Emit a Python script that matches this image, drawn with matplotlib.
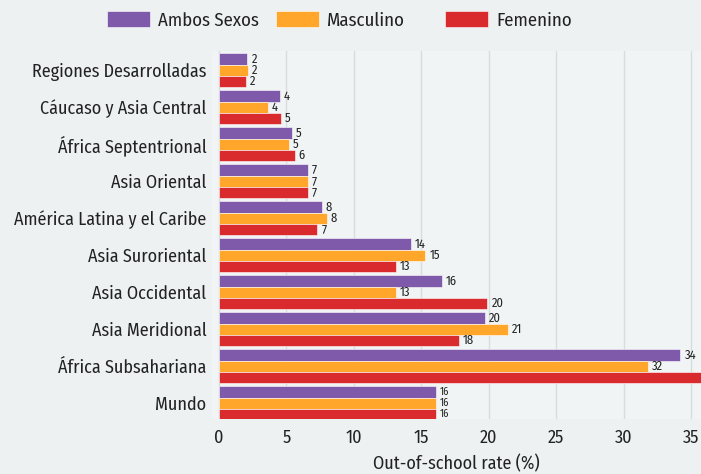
import matplotlib.pyplot as plt
from matplotlib.patches import Patch
import numpy as np

regions = [
    "Regiones Desarrolladas",
    "Cáucaso y Asia Central",
    "África Septentrional",
    "Asia Oriental",
    "América Latina y el Caribe",
    "Asia Suroriental",
    "Asia Occidental",
    "Asia Meridional",
    "África Subsahariana",
    "Mundo",
]
ambos = [2.1, 4.5, 5.4, 6.6, 7.6, 14.2, 16.5, 19.7, 34.2, 16.1]
masculino = [2.15, 3.6, 5.2, 6.6, 8.0, 15.3, 13.1, 21.4, 31.8, 16.1]
femenino = [2.0, 4.6, 5.6, 6.6, 7.3, 13.1, 19.9, 17.8, 36.5, 16.1]
ambos_lbl = [2, 4, 5, 7, 8, 14, 16, 20, 34, 16]
masc_lbl = [2, 4, 5, 7, 8, 15, 13, 21, 32, 16]
fem_lbl = [2, 5, 6, 7, 7, 13, 20, 18, None, 16]

series_names = ["Ambos Sexos", "Masculino", "Femenino"]
colors = ["#7f5aab", "#ffa62b", "#d92b2e"]

plt.rcParams["font.family"] = ["Fira Sans Condensed", "DejaVu Sans"]
text_color = "#222222"

fig = plt.figure(figsize=(7.01, 4.74), dpi=100, facecolor="#edf1f2")
ax = fig.add_axes([0.3024, 0.116, 0.6976, 0.776])
ax.set_facecolor("#f1f4f5")

n = len(regions)
y = np.arange(n)[::-1]
h = 0.3
data = [ambos, masculino, femenino]
labels = [ambos_lbl, masc_lbl, fem_lbl]
offsets = [h, 0, -h]

for vals, lbls, col, off in zip(data, labels, colors, offsets):
    ax.barh(y + off, vals, height=h, color=col, edgecolor="white",
            linewidth=0.4, zorder=3)
    for yi, v, lab in zip(y, vals, lbls):
        if lab is None:
            continue
        fs = 7.5 if yi == 0 else 9
        ax.text(v + 0.3, yi + off, str(lab), fontsize=fs, va="center",
                ha="left", color=text_color, zorder=4)

ax.set_xlim(-0.52, 35.73)
ax.set_ylim(-0.43, 9.51)
ax.set_xticks(range(0, 40, 5))
ax.set_yticks(y)
ax.set_yticklabels(regions)
ax.tick_params(axis="both", length=0, labelsize=13, colors=text_color)
ax.tick_params(axis="y", pad=4)
ax.tick_params(axis="x", pad=7)
ax.grid(axis="x", color="#d8dcdd", linewidth=1, zorder=0)
for s in ax.spines.values():
    s.set_visible(False)
ax.set_xlabel("Out-of-school rate (%)", fontsize=13, color=text_color, labelpad=6)

legend_x = [0.1526, 0.3937, 0.6348]
for name, col, lx in zip(series_names, colors, legend_x):
    fig.legend(handles=[Patch(facecolor=col, edgecolor="white", linewidth=0.4)],
               labels=[name], loc="center left", bbox_to_anchor=(lx, 0.957),
               frameon=False, fontsize=13.5, labelcolor=text_color,
               handlelength=2.29, handleheight=0.91, handletextpad=0.43,
               borderpad=0, borderaxespad=0)

fig.savefig("out.png", dpi=100, facecolor=fig.get_facecolor())
